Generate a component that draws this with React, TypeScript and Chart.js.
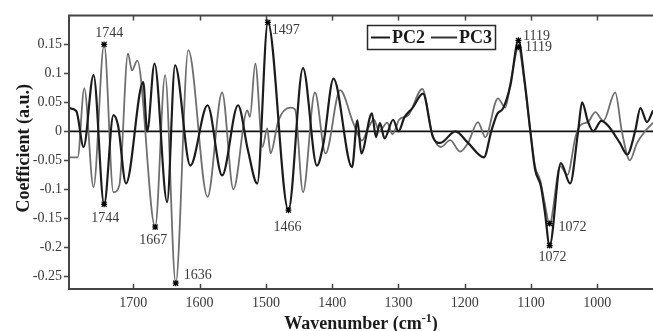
import React, { useEffect, useRef } from 'react';
import { Chart, registerables } from 'chart.js';

Chart.register(...registerables);

// ---------- data ----------
const seriesLabels = ['PC2', 'PC3'];

const pc2Wavenumbers = [
  1797, 1786, 1775, 1760, 1744, 1730, 1723, 1711, 1685, 1679, 1668, 1649, 1637, 1614, 1588, 1566,
  1542, 1527, 1513, 1497, 1466, 1444, 1423, 1413, 1398, 1370, 1362, 1356, 1340, 1334, 1328, 1321,
  1308, 1300, 1291, 1279, 1263, 1248, 1237, 1214, 1195, 1171, 1160, 1151, 1142, 1131, 1119, 1110,
  1101, 1094, 1085, 1079, 1072, 1055, 1041, 1029, 1023, 1014, 1006, 994, 984, 966, 955, 943, 935,
  925, 916,
];
const pc2Values = [
  0.04, 0.035, -0.027, 0.097, -0.126, 0.028, 0.01, -0.09, 0.085, 0.0, 0.117, -0.122, 0.114, -0.059, 0.045, -0.076,
  0.045, -0.033, -0.09, 0.188, -0.136, 0.109, -0.059, -0.02, 0.091, -0.062, 0.019, -0.038, 0.031, -0.01, 0.014, -0.012,
  0.02, 0.0, 0.024, 0.04, 0.065, -0.01, -0.02, 0.0, -0.02, -0.045, 0.0, 0.03, 0.04, 0.08, 0.157, 0.09,
  0.0, -0.065, -0.095, -0.14, -0.197, -0.055, -0.09, 0.0, 0.05, 0.016, 0.0, 0.018, 0.01, -0.02, -0.04, 0.0, 0.04,
  0.016, 0.036,
];

const pc3Wavenumbers = [
  1797, 1784, 1774, 1760, 1744, 1730, 1721, 1708, 1702, 1694, 1667, 1652, 1636, 1617, 1588, 1566,
  1549, 1528, 1524, 1516, 1505, 1498, 1493, 1481, 1463, 1456, 1444, 1426, 1410, 1388, 1368, 1355,
  1346, 1337, 1329, 1317, 1309, 1299, 1285, 1264, 1249, 1236, 1222, 1207, 1195, 1180, 1169, 1150,
  1139, 1130, 1119, 1110, 1101, 1094, 1086, 1080, 1072, 1056, 1045, 1033, 1026, 1014, 1003, 991,
  973, 963, 951, 940, 928, 920, 916,
];
const pc3Values = [
  -0.045, -0.045, 0.074, -0.096, 0.15, -0.105, -0.093, 0.134, 0.105, 0.122, -0.165, 0.097, -0.262, 0.14, -0.113, 0.067,
  -0.1, 0.036, 0.025, 0.117, -0.027, 0.005, -0.038, 0.019, 0.041, 0.038, -0.105, 0.067, -0.038, 0.071, 0.014, -0.016,
  0.005, 0.02, 0.0, 0.015, -0.005, 0.02, 0.028, 0.073, -0.005, -0.027, -0.015, -0.035, -0.02, 0.016, -0.01, 0.057,
  0.041, 0.09, 0.145, 0.085, 0.0, -0.06, -0.085, -0.12, -0.159, -0.06, -0.075, -0.01, 0.01, 0.016, 0.033, 0.018,
  0.067, 0.0, -0.05, -0.02, 0.0, 0.01, 0.015,
];

const xTickValues = [1000, 1100, 1200, 1300, 1400, 1500, 1600, 1700];
const yTickValues = [-0.25, -0.2, -0.15, -0.1, -0.05, 0, 0.05, 0.1, 0.15];

// marked peaks: wavenumber and series index (0 = PC2, 1 = PC3)
const peakWavenumbers = [1744, 1744, 1667, 1636, 1497, 1466, 1119, 1119, 1072, 1072];
const peakSeries = [1, 0, 1, 1, 0, 0, 0, 1, 1, 0];

// ---------- style ----------
const SERIF = '"Liberation Serif", "Times New Roman", serif';
const X_MIN = 916;
const X_MAX = 1797;
const Y_MIN = -0.272;
const Y_MAX = 0.2;
const peakLabelOffsets = [
  [5, -11], [1, 14], [-2, 13], [22, -8], [18, 8], [-1, 17], [18, -4], [20, 0], [23, 4], [3, 12],
];
const seriesColors = ['#1c1c1c', '#6f6f6f'];
const seriesWidths = [2.2, 1.8];

const decorPlugin = {
  id: 'decor',
  beforeDatasetsDraw(chart: any) {
    const { ctx, chartArea: a, scales } = chart;
    const y0 = scales.y.getPixelForValue(0);
    ctx.save();
    ctx.strokeStyle = '#111';
    ctx.lineWidth = 1.6;
    ctx.beginPath();
    ctx.moveTo(a.left, y0);
    ctx.lineTo(a.right, y0);
    ctx.stroke();
    ctx.restore();
  },
  afterDraw(chart: any) {
    const { ctx, chartArea: a, scales } = chart;
    const xs = scales.x;
    const ys = scales.y;
    ctx.save();
    // frame
    ctx.strokeStyle = '#454545';
    ctx.lineWidth = 2;
    ctx.beginPath();
    ctx.moveTo(a.right, a.top);
    ctx.lineTo(a.left, a.top);
    ctx.lineTo(a.left, a.bottom);
    ctx.lineTo(a.right, a.bottom);
    ctx.stroke();
    // tick marks
    ctx.lineWidth = 1.5;
    ctx.beginPath();
    xTickValues.forEach((v) => {
      const px = Math.round(xs.getPixelForValue(v)) + 0.5;
      ctx.moveTo(px, a.bottom);
      ctx.lineTo(px, a.bottom - 5);
      ctx.moveTo(px, a.top);
      ctx.lineTo(px, a.top + 5);
    });
    yTickValues.forEach((v) => {
      const py = Math.round(ys.getPixelForValue(v)) + 0.5;
      ctx.moveTo(a.left - 5, py);
      ctx.lineTo(a.left, py);
    });
    ctx.stroke();

    // peak markers and labels
    const seriesWn = [pc2Wavenumbers, pc3Wavenumbers];
    const seriesVal = [pc2Values, pc3Values];
    peakWavenumbers.forEach((wn, i) => {
      const s = peakSeries[i];
      const idx = seriesWn[s].indexOf(wn);
      if (idx < 0) return;
      const px = xs.getPixelForValue(wn);
      const py = ys.getPixelForValue(seriesVal[s][idx]);
      ctx.strokeStyle = '#000';
      ctx.fillStyle = '#000';
      ctx.lineWidth = 1.2;
      ctx.beginPath();
      ctx.moveTo(px - 3, py); ctx.lineTo(px + 3, py);
      ctx.moveTo(px, py - 3); ctx.lineTo(px, py + 3);
      ctx.moveTo(px - 2.5, py - 2.5); ctx.lineTo(px + 2.5, py + 2.5);
      ctx.moveTo(px - 2.5, py + 2.5); ctx.lineTo(px + 2.5, py - 2.5);
      ctx.stroke();
      ctx.fillRect(px - 1.5, py - 1.5, 3, 3);
      const [dx, dy] = peakLabelOffsets[i];
      ctx.fillStyle = '#3a3a3a';
      ctx.font = `14px ${SERIF}`;
      ctx.textAlign = 'center';
      ctx.textBaseline = 'middle';
      ctx.fillText(String(wn), px + dx, py + dy);
    });

    // legend
    const lx = 367, ly = 25, lw = 128, lh = 24;
    ctx.fillStyle = '#fff';
    ctx.fillRect(lx, ly, lw, lh);
    ctx.strokeStyle = '#2a2a2a';
    ctx.lineWidth = 1.5;
    ctx.strokeRect(lx + 0.5, ly + 0.5, lw, lh);
    const cy = ly + lh / 2 + 0.5;
    const items = [
      { x0: 371, x1: 390, tx: 392 },
      { x0: 431, x1: 457, tx: 459 },
    ];
    items.forEach((it, i) => {
      ctx.strokeStyle = seriesColors[i] === '#6f6f6f' ? '#333' : seriesColors[i];
      ctx.lineWidth = 2;
      ctx.beginPath();
      ctx.moveTo(it.x0, cy);
      ctx.lineTo(it.x1, cy);
      ctx.stroke();
      ctx.fillStyle = '#1a1a1a';
      ctx.font = `bold 18px ${SERIF}`;
      ctx.textAlign = 'left';
      ctx.textBaseline = 'middle';
      ctx.fillText(seriesLabels[i], it.tx, cy + 1);
    });

    // axis titles
    ctx.fillStyle = '#1a1a1a';
    ctx.font = `bold 18px ${SERIF}`;
    ctx.textBaseline = 'alphabetic';
    const main = 'Wavenumber (cm';
    const sup = '-1';
    const close = ')';
    const wMain = ctx.measureText(main).width;
    const wClose = ctx.measureText(close).width;
    ctx.font = `bold 12px ${SERIF}`;
    const wSup = ctx.measureText(sup).width;
    const total = wMain + wSup + wClose;
    const cx = (a.left + a.right) / 2;
    let tx = cx - total / 2;
    const baseY = 329;
    ctx.textAlign = 'left';
    ctx.font = `bold 18px ${SERIF}`;
    ctx.fillText(main, tx, baseY);
    tx += wMain;
    ctx.font = `bold 12px ${SERIF}`;
    ctx.fillText(sup, tx, baseY - 7);
    tx += wSup;
    ctx.font = `bold 18px ${SERIF}`;
    ctx.fillText(close, tx, baseY);

    ctx.save();
    ctx.translate(24, (a.top + a.bottom) / 2 - 4);
    ctx.rotate(-Math.PI / 2);
    ctx.textAlign = 'center';
    ctx.textBaseline = 'middle';
    ctx.font = `bold 18px ${SERIF}`;
    ctx.fillText('Coefficient (a.u.)', 0, 0);
    ctx.restore();

    ctx.restore();
  },
};

export default function App() {
  const canvasRef = useRef<HTMLCanvasElement | null>(null);

  useEffect(() => {
    document.body.style.margin = '0';
    const canvas = canvasRef.current;
    if (!canvas) return;
    const chart = new Chart(canvas, {
      type: 'line',
      data: {
        datasets: [
          {
            label: seriesLabels[0],
            data: pc2Wavenumbers.map((x, i) => ({ x, y: pc2Values[i] })),
            borderColor: seriesColors[0],
            borderWidth: seriesWidths[0],
            pointRadius: 0,
            cubicInterpolationMode: 'monotone',
            fill: false,
          },
          {
            label: seriesLabels[1],
            data: pc3Wavenumbers.map((x, i) => ({ x, y: pc3Values[i] })),
            borderColor: seriesColors[1],
            borderWidth: seriesWidths[1],
            pointRadius: 0,
            cubicInterpolationMode: 'monotone',
            fill: false,
          },
        ],
      },
      options: {
        responsive: false,
        animation: false,
        devicePixelRatio: 1,
        layout: { padding: { top: 14, left: 0, right: 0, bottom: 0 } },
        plugins: { legend: { display: false }, tooltip: { enabled: false } },
        scales: {
          x: {
            type: 'linear',
            reverse: true,
            min: X_MIN,
            max: X_MAX,
            grid: { display: false, drawTicks: false },
            border: { display: false },
            ticks: {
              padding: 6,
              color: '#3a3a3a',
              font: { family: SERIF, size: 14 },
              callback: (v: any) => String(v),
            },
            afterBuildTicks: (s: any) => {
              s.ticks = xTickValues.map((v) => ({ value: v }));
            },
            afterFit: (s: any) => {
              s.height = 42;
            },
          },
          y: {
            type: 'linear',
            min: Y_MIN,
            max: Y_MAX,
            grid: { display: false, drawTicks: false },
            border: { display: false },
            ticks: {
              padding: 7,
              color: '#3a3a3a',
              font: { family: SERIF, size: 14 },
              callback: (v: any) => (v === 0 ? '0' : String(v)),
            },
            afterBuildTicks: (s: any) => {
              s.ticks = yTickValues.map((v) => ({ value: v }));
            },
            afterFit: (s: any) => {
              s.width = 69;
            },
          },
        },
      } as any,
      plugins: [decorPlugin],
    });
    return () => chart.destroy();
  }, []);

  return (
    <div style={{ width: 653, height: 331, background: '#fff' }}>
      <canvas ref={canvasRef} width={653} height={331} style={{ display: 'block' }} />
    </div>
  );
}
